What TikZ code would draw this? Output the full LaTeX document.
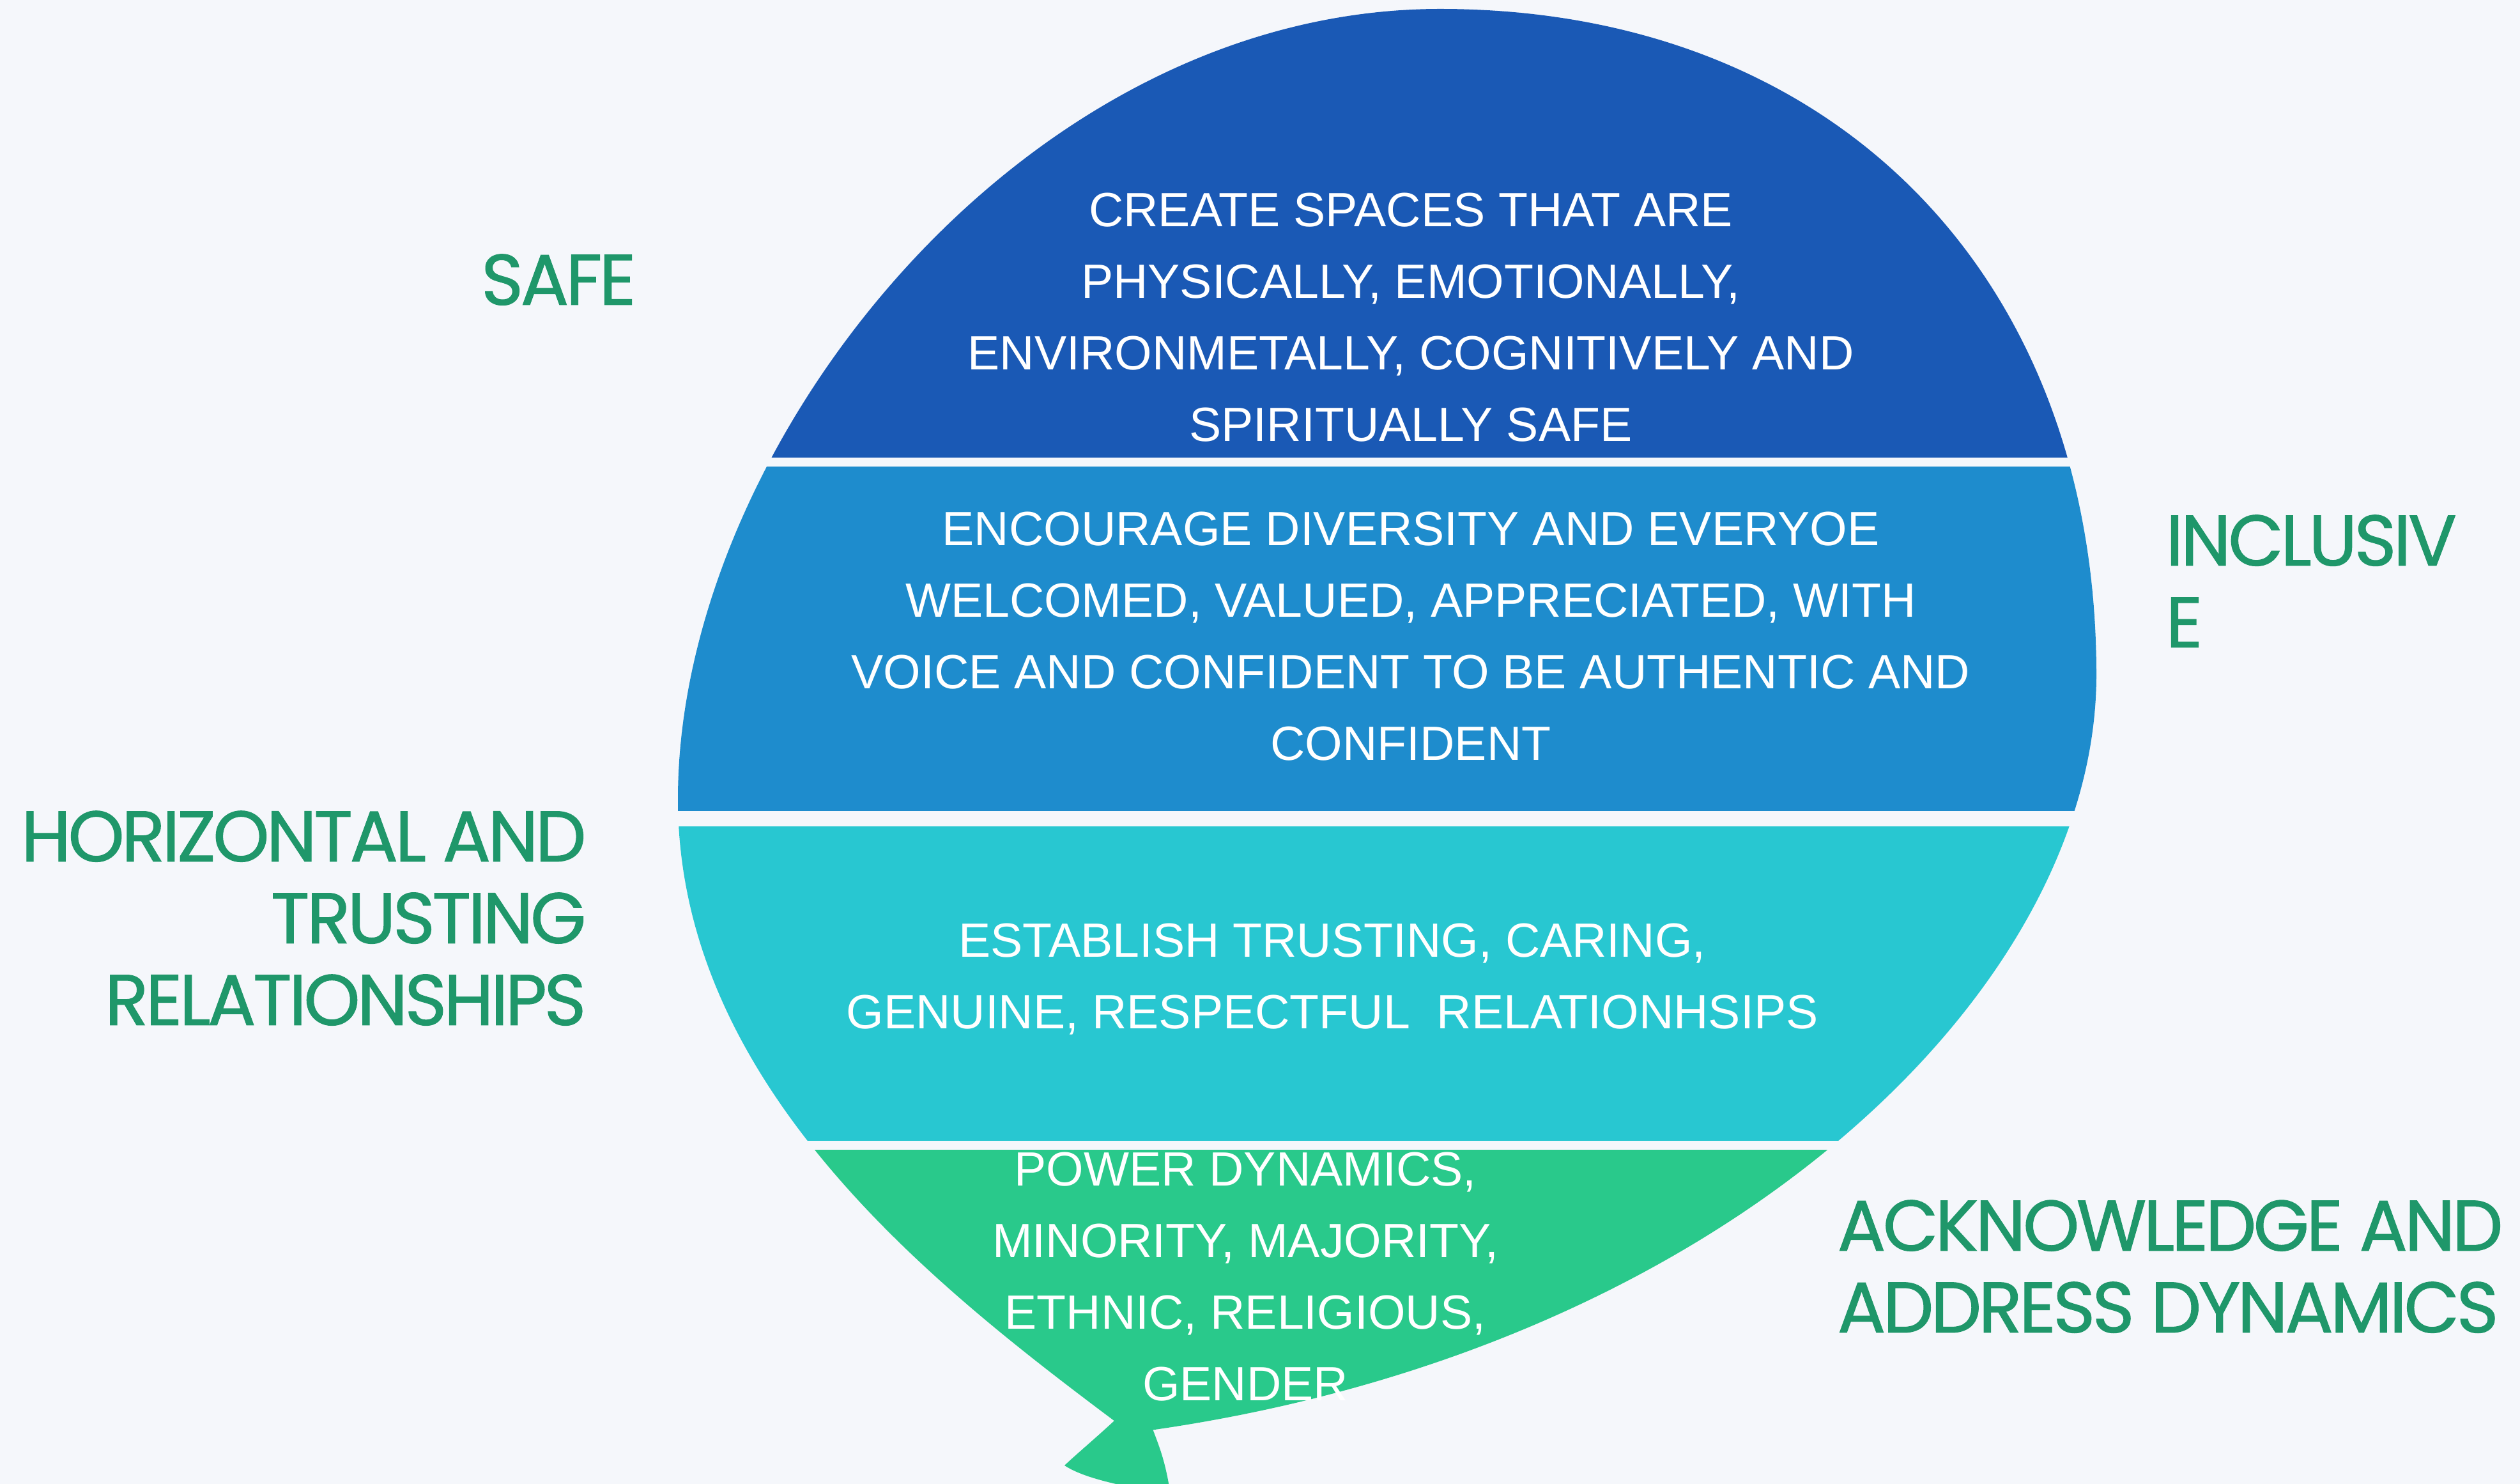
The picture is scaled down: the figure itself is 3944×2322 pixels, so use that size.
\documentclass[tikz,border=0pt]{standalone}
\usepackage{fontspec}
\setmainfont{Liberation Sans}
\newfontfamily\popfont{Poppins}[LetterSpace=-4,FakeBold=1]
\definecolor{bgc}{HTML}{F5F7FB}
\definecolor{cone}{HTML}{1A59B5}
\definecolor{ctwo}{HTML}{1E8CCD}
\definecolor{cthree}{HTML}{28C7D1}
\definecolor{cfour}{HTML}{29C98B}
\definecolor{lab}{HTML}{1F976A}
\tikzset{
  balloonpath/.style={insert path={(2254,14)
    .. controls (2870,14) and (3281,431) .. (3281,1056)
    .. controls (3281,1550) and (2700,2110) .. (1800,2238)
    -- (1745,2224)
    .. controls (1465,2014) and (1061,1700) .. (1061,1250)
    .. controls (1061,700) and (1598,14) .. cycle}},
  inner/.style={text=white, inner sep=0pt, align=center, font=\fontsize{21.4}{31.9}\selectfont},
  outer/.style={text=lab, inner sep=0pt, font=\popfont\fontsize{31.9}{36.4}\selectfont}
}
\begin{document}
\begin{tikzpicture}[x=0.01cm,y=-0.01cm]
\fill[bgc] (0,0) rectangle (3944,2322);
\useasboundingbox (0,0) rectangle (3944,2322);
% bands
\begin{scope}\clip (0,0) rectangle (3944,716); \fill[cone][balloonpath]; \end{scope}
\begin{scope}\clip (0,731) rectangle (3944,1269); \fill[ctwo][balloonpath]; \end{scope}
\begin{scope}\clip (0,1294) rectangle (3944,1784); \fill[cthree][balloonpath]; \end{scope}
\begin{scope}\clip (0,1799) rectangle (3944,2400); \fill[cfour][balloonpath];
\fill[cfour] (1780,2205) -- (1745,2222) .. controls (1715,2250) and (1685,2275) .. (1666,2293)
  .. controls (1700,2315) and (1760,2325) .. (1832,2340)
  .. controls (1825,2290) and (1815,2265) .. (1804,2236) -- cycle;
\end{scope}
% band texts
\node[inner, anchor=north] (t1) at (2208,301) {CREATE SPACES THAT ARE\\PHYSICALLY, EMOTIONALLY,\\ENVIRONMETALLY, COGNITIVELY AND\\SPIRITUALLY SAFE};
\node[inner, anchor=north] (t2) at (2208,800) {ENCOURAGE DIVERSITY AND EVERYOE\\WELCOMED, VALUED, APPRECIATED, WITH\\VOICE AND CONFIDENT TO BE AUTHENTIC AND\\CONFIDENT};
\node[inner, anchor=north] (t3) at (2085,1444) {ESTABLISH TRUSTING, CARING,\\GENUINE, RESPECTFUL\ \ RELATIONHSIPS};
\node[inner, anchor=north] (t4) at (1949,1802) {POWER DYNAMICS,\\MINORITY, MAJORITY,\\ETHNIC, RELIGIOUS,\\GENDER};
% side labels
\node[outer, anchor=north east] (safe) at (996,397) {SAFE};
\node[outer, anchor=north east, align=right] (horiz) at (918,1268) {HORIZONTAL AND\\TRUSTING\\RELATIONSHIPS};
\node[outer, anchor=north west, align=left] (incl) at (3389,805) {INCLUSIV\\E};
\node[outer, anchor=north west, align=left] (ackn) at (2875,1877) {ACKNOWLEDGE AND\\ADDRESS DYNAMICS};
\end{tikzpicture}
\end{document}
